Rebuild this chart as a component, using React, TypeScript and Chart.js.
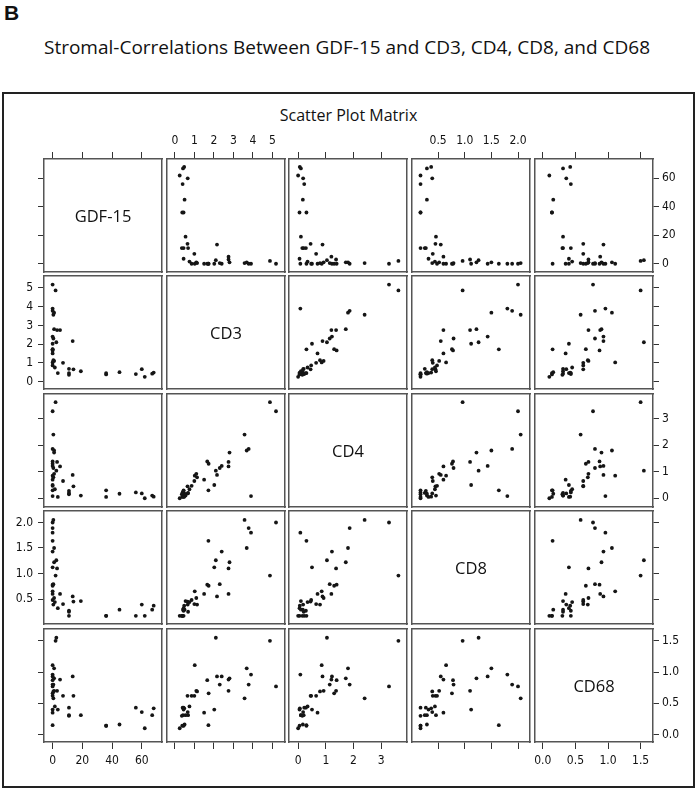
import React, { useEffect, useRef } from "react";
import { Chart, registerables } from "chart.js";

Chart.register(...registerables);

// ---------- data (one entry per observation) ----------
const VARIABLES = ["GDF-15", "CD3", "CD4", "CD8", "CD68"];

const GDF15 = [
  68, 67, 62, 60, 56, 45, 36, 36,
  19, 14, 13.5, 11, 11, 11, 7, 3.5,
  0, 2, 0, 0.5, 0, 1, 0, 0, 1, 0, 2.5, 3, 0, 0, 0.5, 0, 0, 1, 0.5, 0, 5, 1.5,
];
const CD3 = [
  0.48, 0.42, 0.25, 0.66, 0.4, 0.5, 0.38, 0.45,
  0.55, 0.65, 2.16, 0.36, 0.45, 0.68, 1.0, 0.45,
  5.18, 4.87, 3.9, 3.57, 3.78, 3.68, 1.72, 2.02, 2.8, 2.4, 2.1, 2.75, 1.66, 1.73, 2.3, 1.02, 1.5, 1.1, 1.14, 0.86, 2.75, 0.75,
];
const CD4 = [
  0.06, 0.1, 0.0, 0.18, 0.22, 0.17, 0.05, 0.3,
  0.1, 0.45, 0.88, 0.15, 0.28, 0.2, 0.65, 0.05,
  3.28, 3.62, 0.08, 2.4, 1.86, 1.8, 0.3, 0.5, 1.72, 1.22, 1.04, 1.37, 1.39, 1.3, 1.14, 0.85, 0.7, 0.92, 0.79, 0.47, 1.2, 0.34,
];
const CD8 = [
  0.37, 0.29, 0.17, 0.39, 0.17, 0.29, 0.17, 0.17,
  0.46, 0.45, 0.55, 0.17, 0.27, 0.25, 0.4, 0.32,
  2.0, 0.96, 1.8, 2.05, 1.89, 1.5, 1.64, 1.12, 1.22, 1.43, 1.26, 1.1, 0.78, 0.76, 0.79, 0.65, 0.6, 0.52, 0.39, 0.48, 0.6, 0.44,
];
const CD68 = [
  0.42, 0.31, 0.1, 0.36, 0.43, 0.16, 0.14, 0.14,
  0.31, 0.62, 0.93, 0.3, 0.43, 0.31, 0.62, 0.4,
  0.77, 1.5, 0.96, 0.58, 0.8, 1.06, 0.15, 0.4, 0.9, 0.93, 1.55, 0.7, 0.87, 0.66, 0.8, 1.11, 0.35, 0.7, 0.69, 0.62, 0.88, 0.45,
];

const TICKS_GDF15 = [0, 20, 40, 60];
const TICKS_CD3 = [0, 1, 2, 3, 4, 5];
const TICKS_CD4 = [0, 1, 2, 3];
const TICKS_CD8 = [0.5, 1.0, 1.5, 2.0];
const TICKS_CD68 = [0.0, 0.5, 1.0, 1.5];

const VAR_DATA = [GDF15, CD3, CD4, CD8, CD68];
const VAR_TICKS = [TICKS_GDF15, TICKS_CD3, TICKS_CD4, TICKS_CD8, TICKS_CD68];
const VAR_DECIMALS = [0, 0, 0, 1, 1];
const VAR_RANGE: [number, number][] = [
  [-5.8, 73.6],
  [-0.4, 5.64],
  [-0.33, 3.93],
  [0.01, 2.225],
  [-0.12, 1.69],
];

// ---------- layout ----------
const PANEL_W = 118;
const PANEL_H = 113;
const COL_X = [44, 167, 289, 412, 535];
const ROW_Y = [159, 276, 394, 511, 629];
const PAD_LEFT = 40;
const PAD_RIGHT = 45;
const PAD_TOP = 30;
const PAD_BOTTOM = 36;
const PAD_INNER = 2;

const TICK_FONT = {
  family: "'Liberation Sans Narrow','Arial Narrow','DejaVu Sans Condensed','Liberation Sans',Arial,sans-serif",
  size: 12,
};
const TEXT_FONT = "'Open Sans','Noto Sans','Liberation Sans',sans-serif";

function fmt(v: number, dec: number) {
  return dec ? Number(v).toFixed(dec) : String(Math.round(Number(v)));
}

function makeScale(
  varIdx: number,
  position: string,
  showTicks: boolean,
  showLabels: boolean,
  size: number,
  horizontal: boolean,
  labelPad: number
) {
  const [min, max] = VAR_RANGE[varIdx];
  return {
    type: "linear",
    position,
    min,
    max,
    display: true,
    afterBuildTicks: (scale: any) => {
      scale.ticks = VAR_TICKS[varIdx].map((v) => ({ value: v }));
    },
    afterFit: (scale: any) => {
      if (horizontal) scale.height = size;
      else scale.width = size;
      scale.paddingTop = 0;
      scale.paddingBottom = 0;
      scale.paddingLeft = 0;
      scale.paddingRight = 0;
    },
    grid: {
      display: showTicks,
      drawOnChartArea: false,
      drawTicks: showTicks,
      tickLength: horizontal ? 7 : 6,
      color: "#333",
      lineWidth: 1,
    },
    border: { display: true, color: "#555", width: 1.5 },
    ticks: {
      display: showLabels,
      autoSkip: false,
      maxRotation: 0,
      minRotation: 0,
      padding: labelPad,
      color: "#111",
      font: TICK_FONT,
      callback: (v: any) => fmt(v, VAR_DECIMALS[varIdx]),
    },
  };
}

type PanelGeom = {
  r: number;
  c: number;
  left: number;
  top: number;
  width: number;
  height: number;
  pl: number;
  pr: number;
  pt: number;
  pb: number;
};

const PANELS: PanelGeom[] = [];
for (let r = 0; r < 5; r++) {
  for (let c = 0; c < 5; c++) {
    const pl = c === 0 ? PAD_LEFT : PAD_INNER;
    const pr = c === 4 ? PAD_RIGHT : PAD_INNER;
    const pt = r === 0 ? PAD_TOP : PAD_INNER;
    const pb = r === 4 ? PAD_BOTTOM : PAD_INNER;
    PANELS.push({
      r,
      c,
      left: COL_X[c] - pl,
      top: ROW_Y[r] - pt,
      width: PANEL_W + pl + pr,
      height: PANEL_H + pt + pb,
      pl,
      pr,
      pt,
      pb,
    });
  }
}

export default function App() {
  const refs = useRef<(HTMLCanvasElement | null)[]>([]);

  useEffect(() => {
    const charts: Chart[] = [];
    PANELS.forEach((p, i) => {
      const canvas = refs.current[i];
      if (!canvas) return;
      const { r, c } = p;
      const points =
        r === c
          ? []
          : VAR_DATA[c].map((_, k) => ({ x: VAR_DATA[c][k], y: VAR_DATA[r][k] }));
      const chart = new Chart(canvas, {
        type: "scatter",
        data: {
          datasets: [
            {
              data: points,
              xAxisID: "x",
              yAxisID: "y",
              backgroundColor: "#151515",
              borderWidth: 0,
              pointRadius: 1.9,
              pointHoverRadius: 1.9,
            },
          ],
        },
        options: {
          responsive: false,
          animation: false,
          events: [],
          layout: { padding: 0 },
          plugins: { legend: { display: false }, tooltip: { enabled: false }, title: { display: false } },
          scales: {
            x: makeScale(c, "bottom", r === 4, r === 4 && c % 2 === 0, p.pb, true, 5) as any,
            x2: makeScale(c, "top", r === 0, r === 0 && c % 2 === 1, p.pt, true, 4) as any,
            y: makeScale(r, "left", c === 0, c === 0 && r % 2 === 1, p.pl, false, 5) as any,
            y2: makeScale(r, "right", c === 4, c === 4 && r % 2 === 0, p.pr, false, 3) as any,
          },
        } as any,
      });
      charts.push(chart);
    });
    return () => {
      charts.forEach((ch) => ch.destroy());
    };
  }, []);

  return (
    <div
      style={{
        position: "absolute",
        left: 0,
        top: 0,
        width: 698,
        height: 792,
        background: "#fff",
        overflow: "hidden",
      }}
    >
      <div
        style={{
          position: "absolute",
          left: 4,
          top: 1,
          fontFamily: "'Liberation Sans',Arial,sans-serif",
          fontWeight: "bold",
          fontSize: 21,
          color: "#111",
        }}
      >
        B
      </div>
      <div
        style={{
          position: "absolute",
          left: 0,
          width: 694,
          top: 33,
          textAlign: "center",
          fontFamily: TEXT_FONT,
          fontSize: 19,
          lineHeight: "28px",
          color: "#111",
        }}
      >
        Stromal-Correlations Between GDF-15 and CD3, CD4, CD8, and CD68
      </div>
      <div
        style={{
          position: "absolute",
          left: 2,
          top: 92,
          width: 693,
          height: 696,
          boxSizing: "border-box",
          border: "2px solid #222",
        }}
      />
      <div
        style={{
          position: "absolute",
          left: 2,
          width: 693,
          top: 103,
          textAlign: "center",
          fontFamily: TEXT_FONT,
          fontSize: 16,
          lineHeight: "24px",
          color: "#111",
        }}
      >
        Scatter Plot Matrix
      </div>
      {PANELS.map((p, i) => (
        <canvas
          key={i}
          ref={(el) => {
            refs.current[i] = el;
          }}
          width={p.width}
          height={p.height}
          style={{
            position: "absolute",
            left: p.left,
            top: p.top,
            width: p.width,
            height: p.height,
          }}
        />
      ))}
      {VARIABLES.map((name, k) => (
        <div
          key={name}
          style={{
            position: "absolute",
            left: COL_X[k],
            top: ROW_Y[k],
            width: PANEL_W,
            height: PANEL_H,
            display: "flex",
            alignItems: "center",
            justifyContent: "center",
            fontFamily: TEXT_FONT,
            fontSize: 16.5,
            color: "#111",
          }}
        >
          {name}
        </div>
      ))}
    </div>
  );
}
